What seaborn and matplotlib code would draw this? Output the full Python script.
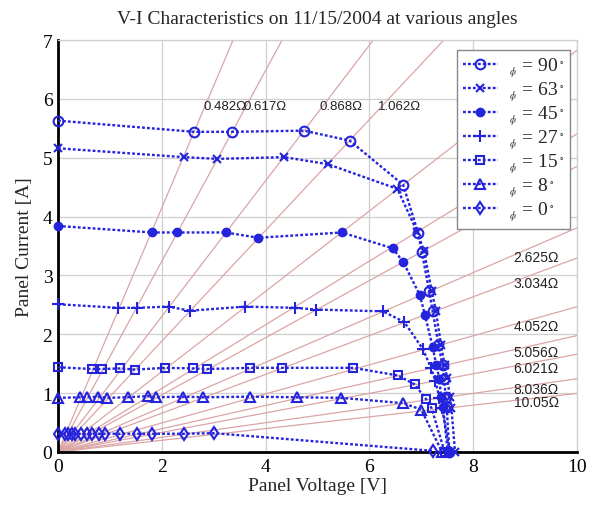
import matplotlib
matplotlib.use("Agg")
import matplotlib.pyplot as plt
import seaborn as sns

# load resistances drawn as lines through the origin
r_lines = [0.482, 0.617, 0.868, 1.062, 1.465, 1.85, 2.06, 2.625, 3.034,
           4.052, 5.056, 6.021, 8.036, 10.05]
r_top_labels = [0.482, 0.617, 0.868, 1.062]
r_right_labels = [2.625, 3.034, 4.052, 5.056, 6.021, 8.036, 10.05]

volts_90 = [0, 2.62, 3.35, 4.74, 5.62, 6.65, 6.94, 7.01, 7.15, 7.22, 7.33, 7.41, 7.44, 7.47, 7.49, 7.54]
amps_90 = [5.63, 5.44, 5.44, 5.46, 5.29, 4.54, 3.72, 3.40, 2.74, 2.39, 1.82, 1.47, 1.24, 0.93, 0.76, 0.0]

volts_63 = [0, 2.42, 3.07, 4.36, 5.20, 6.54, 6.92, 7.05, 7.20, 7.28, 7.38, 7.45, 7.50, 7.55, 7.58, 7.65]
amps_63 = [5.16, 5.01, 4.98, 5.01, 4.89, 4.47, 3.74, 3.42, 2.74, 2.40, 1.82, 1.47, 1.25, 0.94, 0.75, 0.0]

volts_45 = [0, 1.81, 2.29, 3.23, 3.86, 5.47, 6.45, 6.65, 6.97, 7.07, 7.22, 7.29, 7.35, 7.38, 7.42, 7.51]
amps_45 = [3.84, 3.73, 3.73, 3.73, 3.64, 3.73, 3.46, 3.23, 2.67, 2.33, 1.78, 1.47, 1.24, 0.93, 0.76, 0.0]

volts_27 = [0, 1.16, 1.52, 2.13, 2.54, 3.60, 4.56, 4.97, 6.26, 6.67, 7.03, 7.19, 7.27, 7.35, 7.40, 7.55]
amps_27 = [2.51, 2.45, 2.45, 2.47, 2.40, 2.47, 2.45, 2.42, 2.39, 2.21, 1.75, 1.42, 1.21, 0.915, 0.74, 0.0]

volts_15 = [0, 0.65, 0.85, 1.20, 1.49, 2.06, 2.60, 2.87, 3.70, 4.31, 5.69, 6.55, 6.87, 7.09, 7.20, 7.45]
amps_15 = [1.44, 1.41, 1.41, 1.42, 1.40, 1.43, 1.42, 1.41, 1.43, 1.43, 1.43, 1.30, 1.15, 0.90, 0.74, 0.0]

volts_8 = [0, 0.42, 0.55, 0.78, 0.94, 1.34, 1.73, 1.88, 2.41, 2.79, 3.70, 4.60, 5.46, 6.65, 7.00, 7.40]
amps_8 = [0.92, 0.93, 0.93, 0.94, 0.92, 0.93, 0.95, 0.93, 0.94, 0.93, 0.94, 0.93, 0.92, 0.83, 0.72, 0.0]

volts_0 = [0, 0.14, 0.20, 0.27, 0.33, 0.44, 0.56, 0.66, 0.79, 0.91, 1.20, 1.52, 1.81, 2.42, 3.00, 7.22]
amps_0 = [0.31, 0.31, 0.31, 0.31, 0.31, 0.31, 0.31, 0.31, 0.31, 0.31, 0.31, 0.31, 0.31, 0.31, 0.32, 0.02]

angles = ['90', '63', '45', '27', '15', '8', '0']
volts = [volts_90, volts_63, volts_45, volts_27, volts_15, volts_8, volts_0]
amps = [amps_90, amps_63, amps_45, amps_27, amps_15, amps_8, amps_0]
markers = ['o', 'x', 'o', '+', 's', '^', 'd']
filled = [False, False, True, False, False, False, False]
msizes = [7, 6, 5.5, 8, 6, 6.5, 6.5]

sns.set_style("whitegrid")
plt.rcParams['font.family'] = ['Liberation Serif', 'DejaVu Serif']
plt.rcParams['mathtext.fontset'] = 'stix'

blue = '#2424dc'
fig = plt.figure(figsize=(5.95, 5.06), dpi=100)
ax = fig.add_axes([58 / 595, 53 / 506, 519 / 595, 412 / 506])

for r in r_lines:
    ax.plot([0, 10], [0, 10 / r], color='#dca5a5', lw=0.9, zorder=1)

for ang, v, i, m, f, ms in zip(angles, volts, amps, markers, filled, msizes):
    sns.lineplot(x=v, y=i, ax=ax, sort=False, estimator=None, color=blue,
                 linestyle=(0, (1.2, 0.9)), lw=1.7, marker=m, markersize=ms,
                 markerfacecolor=blue if f else 'none', markeredgecolor=blue,
                 markeredgewidth=1.5, clip_on=False, zorder=3,
                 label=r'$_{_\phi}$ = ' + ang + r'$^{_\circ}$')

for r in r_top_labels:
    ax.text(r * 5.8, 5.88, f'{r:.3f}\u03a9', family='Liberation Sans',
            fontsize=9.5, color='#222222', ha='left', va='center', zorder=4)
for r in r_right_labels:
    txt = f'{r:.2f}' if r >= 10 else f'{r:.3f}'
    ax.text(8.78, 8.78 / r - 0.03, txt + '\u03a9', family='Liberation Sans',
            fontsize=10, color='#222222', ha='left', va='center', zorder=4)

ax.set_xlim(0, 10)
ax.set_ylim(0, 7)
ax.set_xticks(range(0, 11, 2))
ax.set_yticks(range(0, 8))
ax.grid(True, color='#cfcfcf', lw=0.9)
ax.tick_params(direction='in', length=5, width=2, labelsize=14, pad=4,
               colors='black')
for side in ['left', 'bottom']:
    ax.spines[side].set_color('black')
    ax.spines[side].set_linewidth(2)
for side in ['top', 'right']:
    ax.spines[side].set_color('#cfcfcf')
    ax.spines[side].set_linewidth(0.9)

ax.set_xlabel('Panel Voltage [V]', fontsize=14, labelpad=2)
ax.set_ylabel('Panel Current [A]', fontsize=14, labelpad=7)
ax.set_title('V-I Characteristics on 11/15/2004 at various angles',
             fontsize=14, pad=12)

leg = ax.legend(loc='upper right', bbox_to_anchor=(0.987, 0.976),
                borderaxespad=0, fontsize=14, labelspacing=0.02,
                handlelength=1.8, handletextpad=0.6, borderpad=0.3,
                fancybox=False, framealpha=1, edgecolor='#888888')
leg.get_frame().set_linewidth(1)

fig.savefig('out.png', dpi=100)
